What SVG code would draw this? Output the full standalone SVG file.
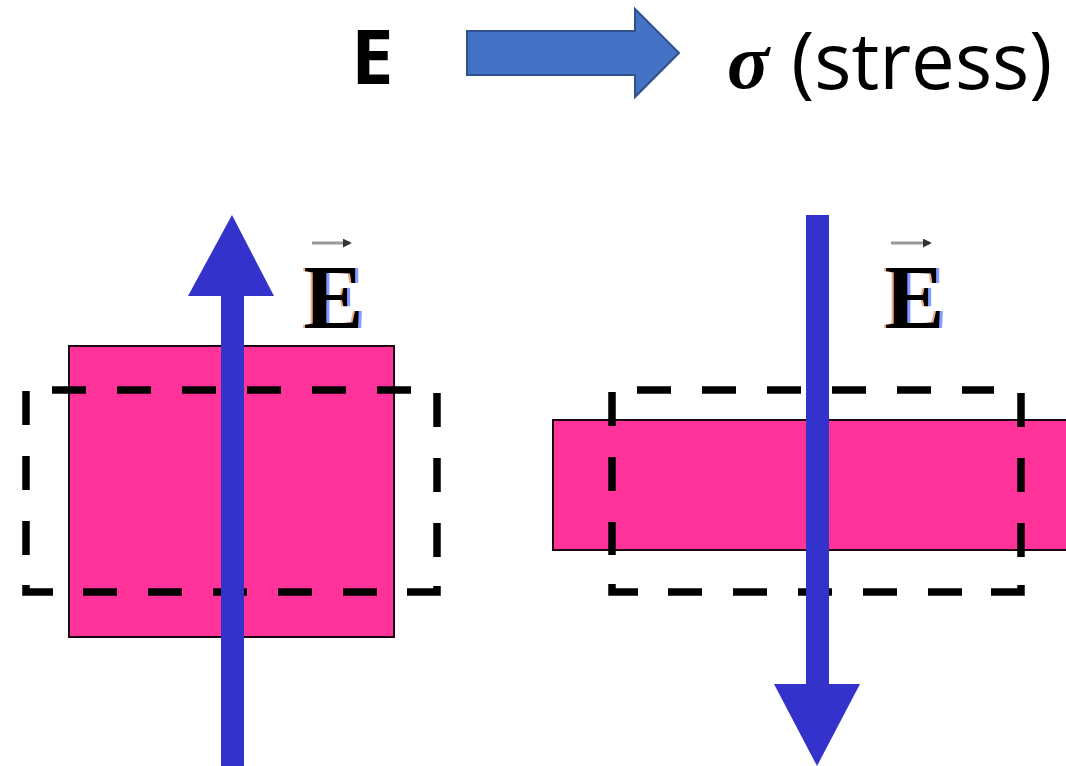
<svg xmlns="http://www.w3.org/2000/svg" width="1066" height="766" viewBox="0 0 1066 766">
  <defs>
    <style>
      .sample { fill: #ff3399; stroke: #1a0010; stroke-width: 2; }
      .outline { fill: none; stroke: #000; stroke-width: 7.5; stroke-dasharray: 34 31; }
      .corner { fill: none; stroke: #000; stroke-width: 7.5; }
      .field { fill: #3333cc; }
      .title { font-family: "Open Sans", "Liberation Sans", sans-serif; fill: #000; }
      .sym { font-family: "Liberation Serif", "DejaVu Serif", serif; font-weight: bold; font-style: italic; }
      .vec { font-family: "Liberation Serif", "Times New Roman", serif; font-weight: bold; font-size: 90px; fill: #000; }
    </style>
    <!-- colour fringing around the field symbols -->
    <filter id="fringe" x="-20%" y="-20%" width="140%" height="140%">
      <feOffset in="SourceAlpha" dx="-2.5" dy="0" result="left"/>
      <feFlood flood-color="#e07020" flood-opacity="0.55" result="orange"/>
      <feComposite in="orange" in2="left" operator="in" result="warm"/>
      <feOffset in="SourceAlpha" dx="2.5" dy="0" result="right"/>
      <feFlood flood-color="#2050ff" flood-opacity="0.55" result="blue"/>
      <feComposite in="blue" in2="right" operator="in" result="cool"/>
      <feMerge>
        <feMergeNode in="warm"/>
        <feMergeNode in="cool"/>
        <feMergeNode in="SourceGraphic"/>
      </feMerge>
    </filter>
    <marker id="tip" viewBox="0 0 10 10" refX="8" refY="5" markerWidth="3" markerHeight="3" orient="auto">
      <path d="M0,0 L10,5 L0,10 Z" fill="#333"/>
    </marker>
  </defs>

  <rect width="1066" height="766" fill="#fff"/>

  <!-- heading: E implies stress -->
  <g id="heading">
    <text class="title" x="351" y="84" font-size="76" font-weight="bold">E</text>
    <path id="implies" d="M467,31 H635 V9 L679,53 L635,97 V75 H467 Z" fill="#4472c4" stroke="#2f528f" stroke-width="2"/>
    <text class="title" y="89" font-size="78" xml:space="preserve"><tspan class="sym" x="727" y="88">σ</tspan><tspan x="771" y="89"> (stress)</tspan></text>
  </g>

  <!-- left: sample elongated along the field -->
  <g id="left-sample">
    <rect class="sample" x="69" y="346" width="325" height="291"/>
    <line class="outline" x1="52" y1="390" x2="411" y2="390"/>
    <line class="outline" x1="83" y1="592" x2="378" y2="592"/>
    <line class="outline" x1="26" y1="391" x2="26" y2="556"/>
    <line class="outline" x1="437" y1="393" x2="437" y2="558"/>
    <polyline class="corner" points="26,585 26,592 53,592"/>
    <polyline class="corner" points="407,592 437,592 437,586"/>
  </g>

  <g id="left-field">
    <rect class="field" x="221" y="294" width="23" height="472"/>
    <polygon class="field" points="232,215 274,296 188,296"/>
    <text class="vec" x="303.5" y="328" filter="url(#fringe)">E</text>
    <line x1="312" y1="243" x2="350" y2="243" stroke="#999" stroke-width="3" marker-end="url(#tip)"/>
  </g>

  <!-- right: sample flattened across the field -->
  <g id="right-sample">
    <rect class="sample" x="553" y="420" width="520" height="130"/>
    <line class="outline" x1="637" y1="390" x2="994" y2="390"/>
    <line class="outline" x1="668" y1="592" x2="962" y2="592"/>
    <line class="outline" x1="612" y1="392" x2="612" y2="555"/>
    <line class="outline" x1="1021" y1="393" x2="1021" y2="558"/>
    <polyline class="corner" points="612,584 612,592 638,592"/>
    <polyline class="corner" points="991,592 1021,592 1021,585"/>
  </g>

  <g id="right-field">
    <rect class="field" x="806" y="215" width="23" height="472"/>
    <polygon class="field" points="774,684 860,684 817,766"/>
    <text class="vec" x="884.5" y="328" filter="url(#fringe)">E</text>
    <line x1="891" y1="243" x2="930" y2="243" stroke="#999" stroke-width="3" marker-end="url(#tip)"/>
  </g>
</svg>
